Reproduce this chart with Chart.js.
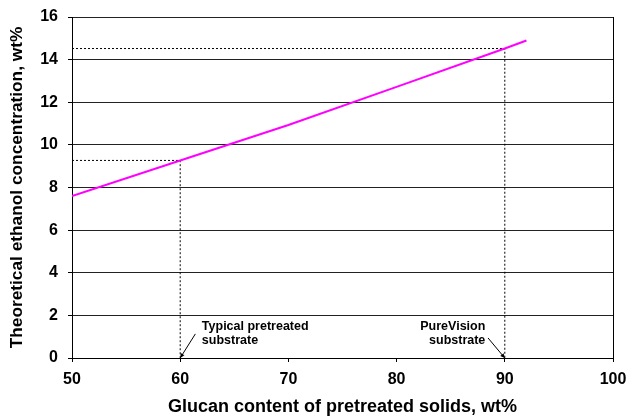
<!DOCTYPE html>
<html>
<head>
<meta charset="utf-8">
<script src="https://cdn.jsdelivr.net/npm/chart.js@4/dist/chart.umd.min.js"></script>
<style>
  html, body { margin: 0; padding: 0; background: #fff; }
  canvas { display: block; }
</style>
</head>
<body>
<canvas id="chart" width="627" height="416"></canvas>
<script>
const FONT = "'Liberation Sans', Arial, sans-serif";

// line
const glucan = [50, 60, 70, 80, 90, 92];
const ethanol = [7.6, 9.27, 10.93, 12.72, 14.52, 14.9];

// dashed guide lines to the two marked substrates
const typicalGuide = [[50, 9.27], [60, 9.27], [60, 0]];
const pureVisionGuide = [[50, 14.52], [90, 14.52], [90, 0]];

const xTicks = [50, 60, 70, 80, 90, 100];
const yTicks = [0, 2, 4, 6, 8, 10, 12, 14, 16];

// callouts, in data units: text anchor and arrow start/end
const callouts = [
  { lines: ['Typical pretreated', 'substrate'], at: [62.0, 1.47], align: 'left', from: [61.4, 1.13], to: [60, 0] },
  { lines: ['PureVision', 'substrate'], at: [88.2, 1.47], align: 'right', from: [88.45, 0.94], to: [90, 0] }
];

const toPoints = arr => arr.map(p => ({ x: p[0], y: p[1] }));

const calloutPlugin = {
  id: 'callouts',
  afterDatasetsDraw(chart) {
    const { ctx, scales: { x, y } } = chart;
    ctx.save();
    ctx.fillStyle = '#000';
    ctx.strokeStyle = '#000';
    ctx.font = 'bold 12.5px ' + FONT;
    ctx.textBaseline = 'middle';
    callouts.forEach(c => {
      ctx.textAlign = c.align;
      const tx = x.getPixelForValue(c.at[0]);
      const ty = y.getPixelForValue(c.at[1]);
      c.lines.forEach((line, i) => ctx.fillText(line, tx, ty + i * 14));

      const x1 = x.getPixelForValue(c.from[0]), y1 = y.getPixelForValue(c.from[1]);
      const x2 = x.getPixelForValue(c.to[0]), y2 = y.getPixelForValue(c.to[1]);
      ctx.lineWidth = 1;
      ctx.beginPath();
      ctx.moveTo(x1, y1);
      ctx.lineTo(x2, y2);
      ctx.stroke();
      // little arrow head
      const a = Math.atan2(y2 - y1, x2 - x1);
      ctx.beginPath();
      ctx.moveTo(x2, y2);
      ctx.lineTo(x2 - 5 * Math.cos(a - 0.45), y2 - 5 * Math.sin(a - 0.45));
      ctx.lineTo(x2 - 5 * Math.cos(a + 0.45), y2 - 5 * Math.sin(a + 0.45));
      ctx.closePath();
      ctx.fill();
    });
    ctx.restore();
  }
};

new Chart(document.getElementById('chart'), {
  type: 'scatter',
  data: {
    datasets: [
      {
        data: glucan.map((g, i) => ({ x: g, y: ethanol[i] })),
        showLine: true,
        borderColor: '#ff00ff',
        borderWidth: 2,
        pointRadius: 0,
        order: 0
      },
      {
        data: toPoints(typicalGuide),
        showLine: true,
        borderColor: '#000',
        borderWidth: 1,
        borderDash: [2, 2],
        pointRadius: 0,
        order: 1
      },
      {
        data: toPoints(pureVisionGuide),
        showLine: true,
        borderColor: '#000',
        borderWidth: 1,
        borderDash: [2, 2],
        pointRadius: 0,
        order: 1
      }
    ]
  },
  options: {
    responsive: false,
    animation: false,
    layout: { padding: { top: 17, right: 14, left: 0, bottom: 0 } },
    plugins: {
      legend: { display: false },
      tooltip: { enabled: false }
    },
    scales: {
      x: {
        type: 'linear',
        min: 50,
        max: 100,
        afterBuildTicks: s => { s.ticks = xTicks.map(v => ({ value: v })); },
        afterFit: s => { s.height = 58; s.paddingLeft = 0; s.paddingRight = 0; },
        border: { color: '#000', width: 1 },
        grid: {
          color: c => (c.tick && c.tick.value === 100 ? '#000' : 'transparent'),
          tickColor: '#000',
          tickLength: 4
        },
        ticks: {
          color: '#000',
          padding: 8,
          font: { family: FONT, size: 16, weight: 'bold' }
        },
        title: {
          display: true,
          text: 'Glucan content of pretreated solids, wt%',
          color: '#000',
          padding: { top: 0, bottom: 0 },
          font: { family: FONT, size: 18, weight: 'bold', lineHeight: 1 }
        }
      },
      y: {
        min: 0,
        max: 16,
        afterBuildTicks: s => { s.ticks = yTicks.map(v => ({ value: v })); },
        afterFit: s => { s.width = 72; s.paddingTop = 0; s.paddingBottom = 0; },
        border: { color: '#000', width: 1 },
        grid: {
          color: '#222',
          tickColor: '#000',
          tickLength: 4
        },
        ticks: {
          color: '#000',
          padding: 10,
          font: { family: FONT, size: 16, weight: 'bold' }
        },
        title: {
          display: true,
          text: 'Theoretical ethanol concentration, wt%',
          color: '#000',
          padding: { top: 9, bottom: 0 },
          font: { family: FONT, size: 17.3, weight: 'bold', lineHeight: 1 }
        }
      }
    }
  },
  plugins: [calloutPlugin]
});
</script>
</body>
</html>
